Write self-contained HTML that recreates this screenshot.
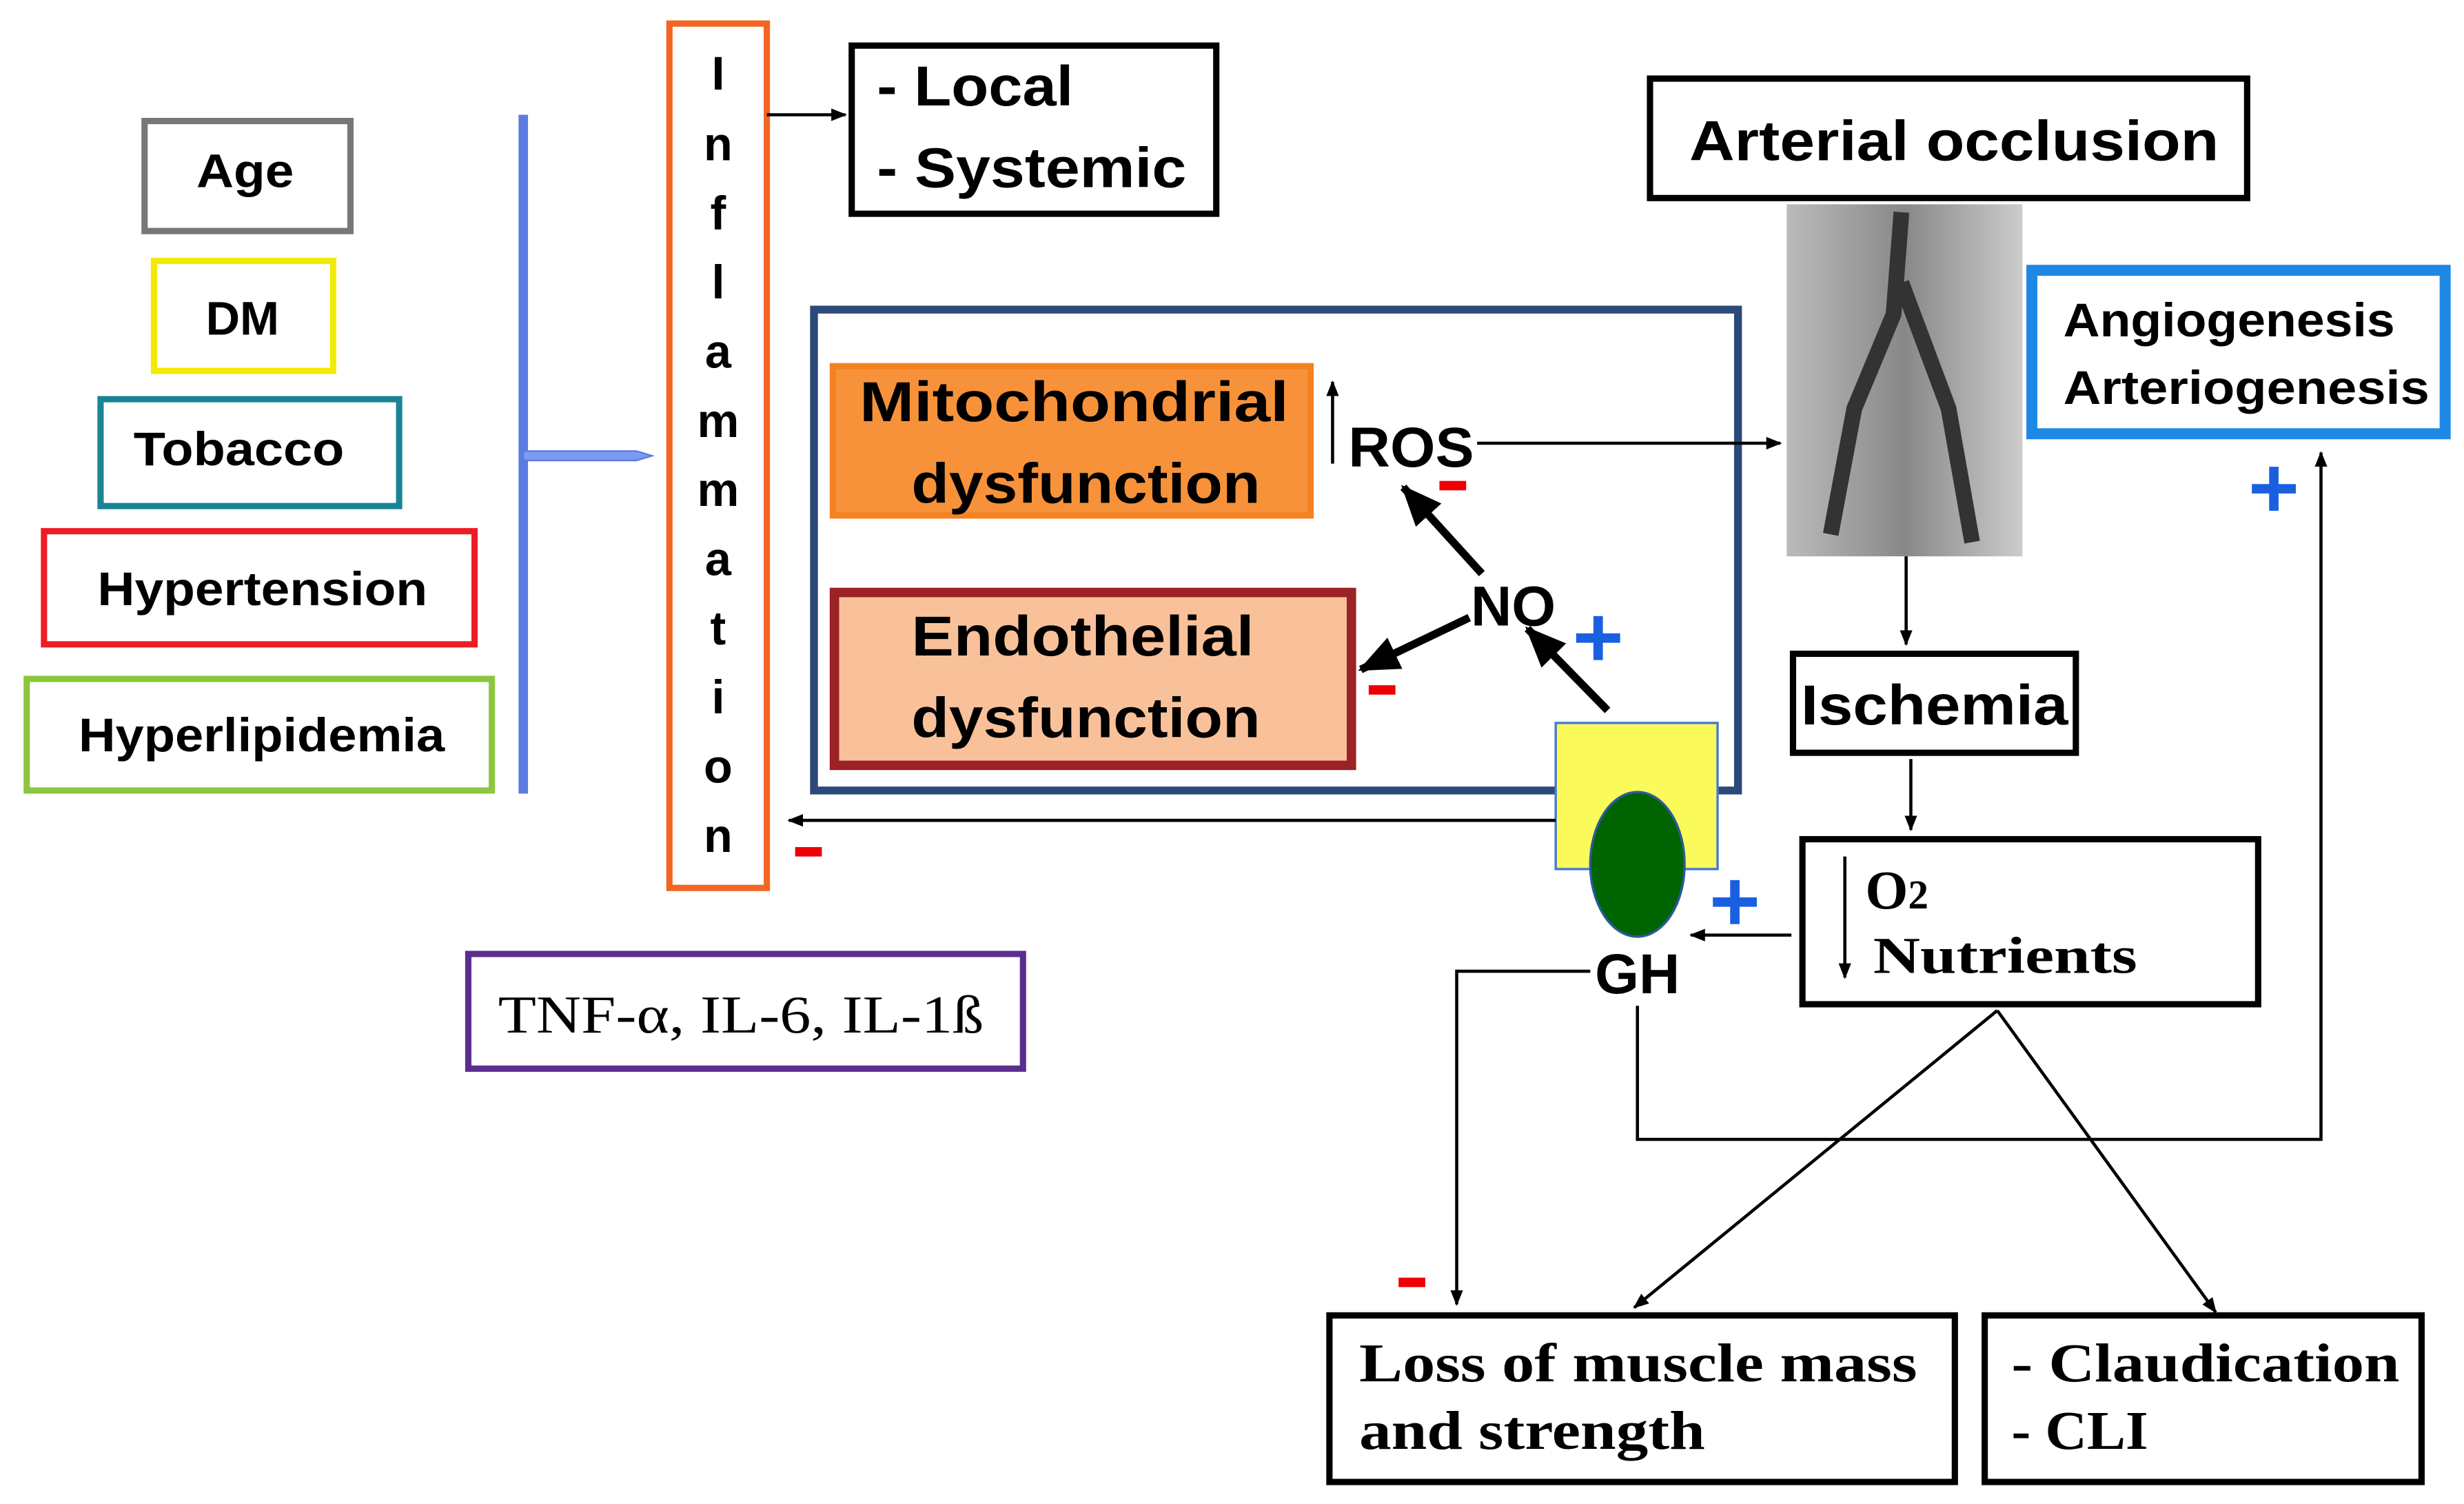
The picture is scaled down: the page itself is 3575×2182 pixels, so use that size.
<!DOCTYPE html>
<html><head><meta charset="utf-8"><style>
html,body{margin:0;padding:0;background:#fff}
svg{display:block}
.s{font-family:"Liberation Sans",sans-serif;font-weight:bold}
.r{font-family:"Liberation Serif",serif;font-weight:bold}
</style></head><body>
<svg width="3575" height="2182" viewBox="0 0 1568 957" xmlns="http://www.w3.org/2000/svg">
<defs>
<marker id="a" markerWidth="10" markerHeight="10" refX="9" refY="5" orient="auto" markerUnits="userSpaceOnUse"><path d="M0,1 L10,5 L0,9 z" fill="#000"/></marker>
<marker id="b" markerWidth="26" markerHeight="26" refX="24" refY="13" orient="auto" markerUnits="userSpaceOnUse"><path d="M0,2 L26,13 L0,24 z" fill="#000"/></marker>
<linearGradient id="g" x1="0" x2="1"><stop offset="0" stop-color="#bbb"/><stop offset="0.5" stop-color="#888"/><stop offset="1" stop-color="#ccc"/></linearGradient>
</defs>
<g fill="none" stroke-width="4">
<rect x="92" y="77" width="131" height="70" stroke="#777"/>
<rect x="98" y="166" width="114" height="70" stroke="#f2ea00"/>
<rect x="64" y="254" width="190" height="68" stroke="#1a8494"/>
<rect x="28" y="338" width="274" height="72" stroke="#ee1c25"/>
<rect x="17" y="432" width="296" height="71" stroke="#8cc63e"/>
<rect x="426" y="15" width="62" height="550" stroke="#f26522"/>
<rect x="542" y="29" width="232" height="107" stroke="#000"/>
<rect x="1050" y="50" width="380" height="76" stroke="#000"/>
<rect x="298" y="607" width="353" height="73" stroke="#5c2d91"/>
<rect x="1141" y="416" width="180" height="63" stroke="#000"/>
<rect x="1147" y="534" width="290" height="105" stroke="#000"/>
<rect x="846" y="837" width="398" height="106" stroke="#000"/>
<rect x="1263" y="837" width="278" height="106" stroke="#000"/>
</g>
<rect x="1293" y="172" width="263" height="104" fill="none" stroke="#1e88e5" stroke-width="7"/>
<rect x="1137" y="130" width="150" height="224" fill="url(#g)"/>
<path d="M1210,135 L1205,200 L1180,260 L1165,340 M1210,180 L1240,260 L1255,345" stroke="#333" stroke-width="10" fill="none"/>
<rect x="518" y="197" width="588" height="306" fill="none" stroke="#2b4a7a" stroke-width="5"/>
<rect x="530" y="233" width="304" height="95" fill="#f7923a" stroke="#f58220" stroke-width="4"/>
<rect x="531" y="377" width="329" height="110" fill="#f9c19a" stroke="#9b2226" stroke-width="6"/>
<line x1="333" y1="73" x2="333" y2="505" stroke="#5b7be0" stroke-width="6"/>
<path d="M333,287 L405,287 L415,290 L405,293 L333,293 z" fill="#7b9bf0" stroke="#5b7be0" stroke-width="1"/>
<rect x="990" y="460" width="103" height="93" fill="#fafa5a" stroke="#4a7bd0" stroke-width="1.5"/>
<ellipse cx="1042" cy="550" rx="30" ry="46" fill="#006400" stroke="#2a5a9a" stroke-width="1.5"/>
<g stroke="#000" stroke-width="2" fill="none">
<line x1="488" y1="73" x2="538" y2="73" marker-end="url(#a)"/>
<line x1="940" y1="282" x2="1133" y2="282" marker-end="url(#a)"/>
<line x1="1213" y1="354" x2="1213" y2="410" marker-end="url(#a)"/>
<line x1="1216" y1="483" x2="1216" y2="528" marker-end="url(#a)"/>
<line x1="990" y1="522" x2="502" y2="522" marker-end="url(#a)"/>
<line x1="1140" y1="595" x2="1076" y2="595" marker-end="url(#a)"/>
<polyline points="1012,618 927,618 927,830" marker-end="url(#a)"/>
<polyline points="1042,640 1042,725 1477,725 1477,288" marker-end="url(#a)"/>
<line x1="1271" y1="643" x2="1040" y2="832" marker-end="url(#a)"/>
<line x1="1271" y1="643" x2="1410" y2="835" marker-end="url(#a)"/>
<line x1="848" y1="295" x2="848" y2="243" marker-end="url(#a)"/>
<line x1="1174" y1="545" x2="1174" y2="622" marker-end="url(#a)"/>
</g>
<g stroke="#000" stroke-width="5">
<line x1="943" y1="365" x2="893" y2="310" marker-end="url(#b)"/>
<line x1="935" y1="393" x2="866" y2="426" marker-end="url(#b)"/>
<line x1="1023" y1="452" x2="972" y2="400" marker-end="url(#b)"/>
</g>
<g class="s" fill="#000" font-size="30">
<text x="125" y="119" textLength="62" lengthAdjust="spacingAndGlyphs">Age</text>
<text x="131" y="213">DM</text>
<text x="85" y="296" textLength="134" lengthAdjust="spacingAndGlyphs">Tobacco</text>
<text x="62" y="385" textLength="210" lengthAdjust="spacingAndGlyphs">Hypertension</text>
<text x="50" y="478" textLength="233" lengthAdjust="spacingAndGlyphs">Hyperlipidemia</text>
</g>
<g class="s" font-size="30" text-anchor="middle">
<text x="457" y="57">I</text><text x="457" y="102">n</text><text x="457" y="146">f</text><text x="457" y="190">l</text><text x="457" y="234">a</text><text x="457" y="278">m</text><text x="457" y="322">m</text><text x="457" y="366">a</text><text x="457" y="410">t</text><text x="457" y="454">i</text><text x="457" y="498">o</text><text x="457" y="542">n</text>
</g>
<g class="s" font-size="36">
<text x="558" y="67" textLength="125" lengthAdjust="spacingAndGlyphs">- Local</text>
<text x="558" y="119" textLength="197" lengthAdjust="spacingAndGlyphs">- Systemic</text>
<text x="1075" y="102" textLength="337" lengthAdjust="spacingAndGlyphs">Arterial occlusion</text>
<text x="1146" y="461" textLength="170" lengthAdjust="spacingAndGlyphs">Ischemia</text>
<text x="547" y="268" textLength="273" lengthAdjust="spacingAndGlyphs">Mitochondrial</text>
<text x="580" y="320" textLength="222" lengthAdjust="spacingAndGlyphs">dysfunction</text>
<text x="580" y="417" textLength="218" lengthAdjust="spacingAndGlyphs">Endothelial</text>
<text x="580" y="469" textLength="222" lengthAdjust="spacingAndGlyphs">dysfunction</text>
<text x="858" y="297" textLength="80" lengthAdjust="spacingAndGlyphs">ROS</text>
<text x="936" y="398">NO</text>
<text x="1042" y="632" text-anchor="middle">GH</text>
</g>
<g class="s" font-size="30">
<text x="1313" y="214" textLength="211" lengthAdjust="spacingAndGlyphs">Angiogenesis</text>
<text x="1313" y="257" textLength="233" lengthAdjust="spacingAndGlyphs">Arteriogenesis</text>
</g>
<g class="r" font-size="35">
<text x="1187" y="578">O<tspan font-size="26">2</tspan></text>
<text x="1192" y="619" font-size="33" textLength="168" lengthAdjust="spacingAndGlyphs">Nutrients</text>
<text x="865" y="879" textLength="355" lengthAdjust="spacingAndGlyphs">Loss of muscle mass</text>
<text x="865" y="922" textLength="220" lengthAdjust="spacingAndGlyphs">and strength</text>
<text x="1280" y="879" textLength="247" lengthAdjust="spacingAndGlyphs">- Claudication</text>
<text x="1280" y="922" textLength="87" lengthAdjust="spacingAndGlyphs">- CLI</text>
</g>
<text x="317" y="657" font-family="Liberation Serif,serif" font-size="34" textLength="309" lengthAdjust="spacingAndGlyphs">TNF-α, IL-6, IL-1ß</text>
<g fill="#e00">
<rect x="916" y="306" width="17" height="6"/>
<rect x="871" y="436" width="17" height="6"/>
<rect x="506" y="539" width="17" height="6"/>
<rect x="890" y="813" width="17" height="6"/>
</g>
<g fill="#1a5fe0">
<rect x="1003" y="403" width="28" height="6"/><rect x="1014" y="392" width="6" height="28"/>
<rect x="1090" y="571" width="28" height="6"/><rect x="1101" y="560" width="6" height="28"/>
<rect x="1433" y="308" width="28" height="6"/><rect x="1444" y="297" width="6" height="28"/>
</g>
</svg>
</body></html>
